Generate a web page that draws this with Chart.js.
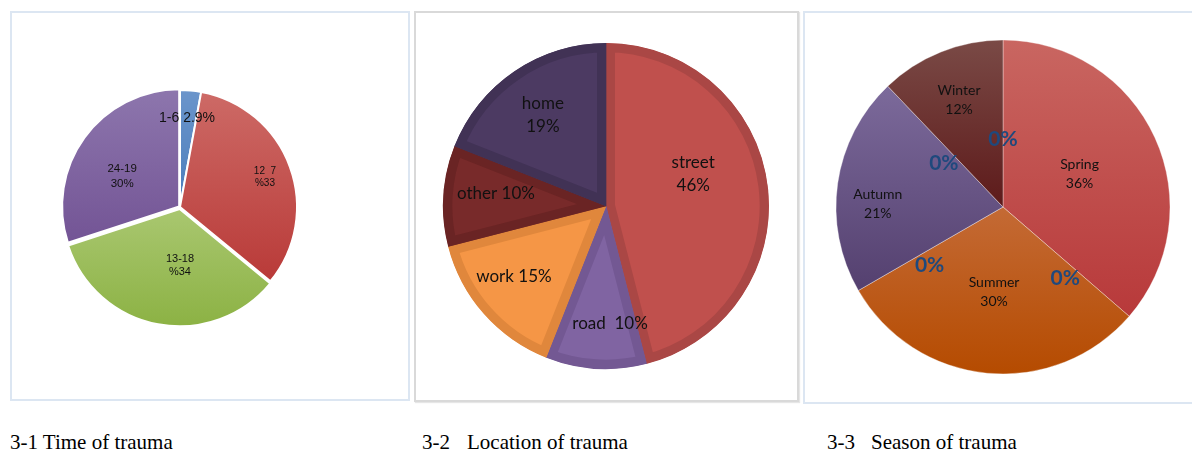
<!DOCTYPE html>
<html>
<head>
<meta charset="utf-8">
<script src="https://cdn.jsdelivr.net/npm/chart.js@4/dist/chart.umd.min.js"></script>
<style>
  html, body { margin: 0; padding: 0; background: #fff; }
  #wrap { position: relative; width: 1192px; height: 452px; overflow: hidden; }
  .panel { position: absolute; box-sizing: border-box; }
  canvas { position: absolute; }
  .cap { position: absolute; top: 432px; font-family: "Liberation Serif", "Times New Roman", serif; font-size: 21px; line-height: 21px; color: #000; white-space: pre; }
</style>
</head>
<body>
<div id="wrap">
  <div class="panel" style="left:10px;top:11px;width:400px;height:390px;border:2px solid #dce6f2;"></div>
  <div class="panel" style="left:414px;top:11px;width:385px;height:391px;border:2px solid #d9d9d9;box-shadow:1px 1px 1px #e6e6e6;"></div>
  <div class="panel" style="left:803px;top:11px;width:400px;height:393px;border:2px solid #dce6f2;"></div>

  <canvas id="c1" width="250" height="250" style="left:55px;top:82px;"></canvas>
  <canvas id="c2" width="340" height="340" style="left:436px;top:36px;"></canvas>
  <canvas id="c3" width="350" height="350" style="left:828px;top:32px;"></canvas>

  <div class="cap" style="left:10px;">3-1 Time of trauma</div>
  <div class="cap" style="left:422px;">3-2<span style="margin-left:17px">Location of trauma</span></div>
  <div class="cap" style="left:827px;">3-3<span style="margin-left:16px">Season of trauma</span></div>
</div>

<script>
// ---------- DATA ----------
// 3-1 Time of trauma
const timeCategories = ['1-6', '7-12', '13-18', '19-24'];
const timeValues = [2.9, 33, 34, 30];
const timeLabelText = [['1-6 2.9%'], ['12  7', '%33'], ['13-18', '%34'], ['24-19', '30%']];

// 3-2 Location of trauma
const locationCategories = ['street', 'road', 'work', 'other', 'home'];
const locationValues = [46, 10, 15, 10, 19];
const locationLabelText = [['street', '46%'], ['road  10%'], ['work 15%'], ['other 10%'], ['home', '19%']];

// 3-3 Season of trauma (zero-valued categories carry the "0%" labels)
const seasonCategories = ['Spring', '', 'Summer', '', 'Autumn', '', 'Winter', ''];
const seasonValues = [36, 0, 30, 0, 21, 0, 12, 0];

// ---------- HELPERS ----------
function sliceGradient(tops, bottoms, radius) {
  return function (ctx) {
    const i = ctx.dataIndex;
    if (i === undefined) return tops[0];
    const chart = ctx.chart;
    const area = chart.chartArea;
    if (!area) return tops[i];
    const cy = (area.top + area.bottom) / 2;
    const data = chart.data.datasets[0].data;
    const total = data.reduce((a, b) => a + b, 0);
    let start = -Math.PI / 2;
    for (let k = 0; k < i; k++) start += data[k] / total * 2 * Math.PI;
    const end = start + data[i] / total * 2 * Math.PI;
    const angles = [start, end];
    [-Math.PI / 2, Math.PI / 2, 3 * Math.PI / 2].forEach(a => { if (a > start && a < end) angles.push(a); });
    let ymin = cy, ymax = cy;
    angles.forEach(a => { const y = cy + Math.sin(a) * radius; ymin = Math.min(ymin, y); ymax = Math.max(ymax, y); });
    if (ymax - ymin < 1) ymax = ymin + 1;
    const g = chart.ctx.createLinearGradient(0, ymin, 0, ymax);
    g.addColorStop(0, tops[i]);
    g.addColorStop(1, bottoms[i]);
    return g;
  };
}

const sliceLabels = {
  id: 'sliceLabels',
  afterDatasetsDraw(chart, args, opts) {
    const meta = chart.getDatasetMeta(0);
    const c = chart.ctx;
    c.save();
    c.textAlign = 'center';
    c.textBaseline = 'middle';
    meta.data.forEach((arc, i) => {
      const lines = opts.texts[i];
      if (!lines || !lines.length) return;
      const mid = (arc.startAngle + arc.endAngle) / 2 + (opts.nudge[i] || 0) * Math.PI / 180;
      const r = arc.outerRadius * opts.radius[i];
      const x = arc.x + Math.cos(mid) * r;
      const y = arc.y + Math.sin(mid) * r;
      c.font = opts.fonts[i];
      c.fillStyle = opts.colors[i];
      const lh = opts.lineHeights[i];
      lines.forEach((t, j) => c.fillText(t, x, y + (j - (lines.length - 1) / 2) * lh));
    });
    c.restore();
  }
};

function baseOptions(labelOpts) {
  return {
    responsive: false,
    animation: false,
    events: [],
    layout: { padding: 0 },
    plugins: {
      legend: { display: false },
      tooltip: { enabled: false },
      title: { display: false },
      sliceLabels: labelOpts
    }
  };
}

// ---------- CHART 1 ----------
const r1 = 117;
new Chart(document.getElementById('c1'), {
  type: 'pie',
  data: {
    labels: timeCategories,
    datasets: [{
      data: timeValues,
      radius: r1,
      backgroundColor: sliceGradient(
        ['#6b95cb', '#cd6a66', '#a9c770', '#8d76ad'],
        ['#4a7dbb', '#b93a38', '#8cb244', '#735495'],
        r1),
      borderColor: '#ffffff',
      borderWidth: 2,
      offset: [0, 0, 8, 4]
    }]
  },
  options: baseOptions({
    texts: timeLabelText,
    radius: [0.763, 0.77, 0.5, 0.56],
    nudge: [-0.7, 0.7, -10.6, -7.9],
    fonts: ['14px "Liberation Sans", Arial', '10px "Liberation Sans", Arial', '11px "Liberation Sans", Arial', '11.5px "Liberation Sans", Arial'],
    colors: ['#111', '#111', '#111', '#111'],
    lineHeights: [14, 12, 13, 15.5]
  }),
  plugins: [sliceLabels]
});

// ---------- CHART 2 ----------
const r2 = 163;
new Chart(document.getElementById('c2'), {
  type: 'pie',
  data: {
    labels: locationCategories,
    datasets: [{
      data: locationValues,
      radius: r2,
      backgroundColor: ['#c0504d', '#8064a2', '#f59646', '#782a2a', '#4c3a62'],
      borderColor: ['#aa4745', '#735893', '#e0873c', '#6a2424', '#413255'],
      borderWidth: 9,
      borderAlign: 'inner'
    }]
  },
  options: baseOptions({
    texts: locationLabelText,
    radius: [0.57, 0.72, 0.71, 0.68, 0.68],
    nudge: [-13, -5.6, 4.1, 3.1, -0.5],
    fonts: Array(5).fill('17px Lato, "Open Sans", sans-serif'),
    colors: Array(5).fill('#111'),
    lineHeights: Array(5).fill(22.5)
  }),
  plugins: [sliceLabels]
});

// ---------- CHART 3 ----------
const r3 = 167;
const seasonTexts = seasonValues.map((v, i) => v > 0 ? [seasonCategories[i], v + '%'] : [v + '%']);
new Chart(document.getElementById('c3'), {
  type: 'pie',
  data: {
    labels: seasonCategories,
    datasets: [{
      data: seasonValues,
      radius: r3,
      backgroundColor: sliceGradient(
        ['#c96661', '#fff', '#c46a35', '#fff', '#7c6a9b', '#fff', '#7a4a46', '#fff'],
        ['#b8393a', '#fff', '#b54b00', '#fff', '#54406f', '#fff', '#5d1a1a', '#fff'],
        r3),
      borderColor: 'rgba(255,255,255,0.35)',
      borderWidth: 1
    }]
  },
  options: baseOptions({
    texts: seasonTexts,
    radius: [0.50, 0.567, 0.51, 0.56, 0.75, 0.44, 0.69, 0.405],
    nudge: [1, 8, 0.6, -8.3, -6.8, -10, -0.6, 0],
    fonts: seasonValues.map(v => v > 0 ? '14px Lato, "Open Sans", sans-serif' : 'bold 21px Lato, "Open Sans", sans-serif'),
    colors: seasonValues.map(v => v > 0 ? '#111' : '#1f497d'),
    lineHeights: Array(8).fill(19)
  }),
  plugins: [sliceLabels]
});
</script>
</body>
</html>
